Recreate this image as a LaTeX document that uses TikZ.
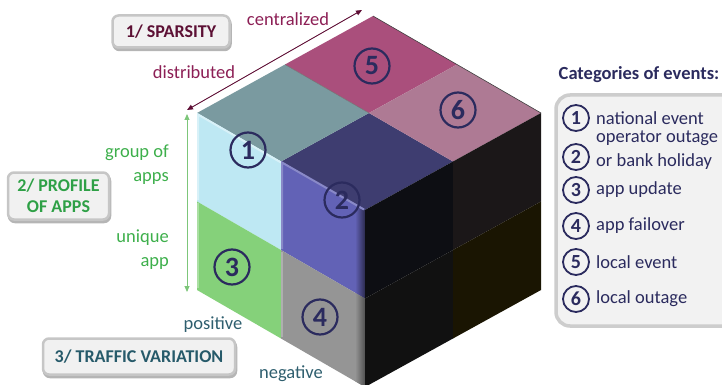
\documentclass[tikz,border=0pt]{standalone}
\usepackage{fontspec}
\setmainfont{Carlito}
\usetikzlibrary{arrows.meta}
\definecolor{navy}{HTML}{2B2B5E}
\definecolor{maroon}{HTML}{8C1F55}
\definecolor{maroondk}{HTML}{5E0E35}
\definecolor{grn}{HTML}{3DAF4B}
\definecolor{grnarrow}{HTML}{7DC67A}
\definecolor{teal}{HTML}{2E5E6E}
\definecolor{topA}{HTML}{3E3D70}
\definecolor{topB}{HTML}{7A9AA0}
\definecolor{topC}{HTML}{AA4F7C}
\definecolor{topD}{HTML}{AE7A94}
\definecolor{lfA}{HTML}{BEE8F3}
\definecolor{lfB}{HTML}{6262B6}
\definecolor{lfC}{HTML}{85D17A}
\definecolor{lfD}{HTML}{959595}
\definecolor{rfA}{HTML}{0D0E13}
\definecolor{rfB}{HTML}{1B1718}
\definecolor{rfC}{HTML}{111111}
\definecolor{rfD}{HTML}{1A1502}
\definecolor{btnface}{HTML}{F1F1F1}
\definecolor{btnrim}{HTML}{C6C6C6}
\definecolor{btnshadow}{HTML}{B5B5B5}
\definecolor{b1text}{HTML}{5C1034}
\definecolor{b2text}{HTML}{2EA046}
\definecolor{b3text}{HTML}{265A6A}
\definecolor{legfill}{HTML}{F2F2F2}
\definecolor{legrim}{HTML}{CDCDCD}
\begin{document}
\begin{tikzpicture}[x=1pt,y=-1pt,
  lab/.style={font=\fontsize{18.5}{24}\selectfont, inner sep=1pt},
  cnum/.style={circle, draw=navy, line width=2.2pt, minimum size=35pt, inner sep=0pt,
    text=navy, font=\bfseries\fontsize{28}{28}\selectfont},
  lnum/.style={circle, draw=navy, line width=1.8pt, minimum size=26pt, inner sep=0pt,
    text=navy, font=\bfseries\fontsize{20}{20}\selectfont},
  ltext/.style={font=\fontsize{18.5}{24}\selectfont, text=navy, inner sep=1pt, anchor=west, align=left},
  btn/.style={rounded corners=6pt, fill=btnface, draw=btnrim, line width=2.5pt, inner sep=0pt,
    align=center, font=\bfseries\fontsize{18}{21}\selectfont,
    preaction={draw=btnshadow, fill=btnshadow, line width=2.5pt, transform canvas={xshift=1pt,yshift=-2.5pt}}},
  arr/.style={line width=0.9pt, {Triangle[length=6pt,width=5pt]}-{Triangle[length=6pt,width=5pt]}}
]
\useasboundingbox (0,0) rectangle (722,385);
% ---- cube: top face
\fill[topA] (365,210) -- (281,161.5) -- (369,113) -- (453,161.5) -- cycle;
\fill[topB] (281,161.5) -- (197,113) -- (285,64.5) -- (369,113) -- cycle;
\fill[topC] (369,113) -- (285,64.5) -- (373,16) -- (457,64.5) -- cycle;
\fill[topD] (453,161.5) -- (369,113) -- (457,64.5) -- (541,113) -- cycle;
% left face
\fill[lfA] (281,161.5) -- (197,113) -- (197,201.5) -- (281,250) -- cycle;
\fill[lfB] (365,210) -- (281,161.5) -- (281,250) -- (365,298.5) -- cycle;
\fill[lfC] (281,250) -- (197,201.5) -- (197,290) -- (281,338.5) -- cycle;
\fill[lfD] (365,298.5) -- (281,250) -- (281,338.5) -- (365,387) -- cycle;
\shade[left color=lfB, right color=topA!70!black] (355,204.2) -- (365,210) -- (365,298.5) -- (355,292.7) -- cycle;
\shade[left color=lfD, right color=lfD!55!black] (355,292.7) -- (365,298.5) -- (365,387) -- (355,381.2) -- cycle;
% right face
\fill[rfA] (365,210) -- (453,161.5) -- (453,250) -- (365,298.5) -- cycle;
\fill[rfB] (453,161.5) -- (541,113) -- (541,201.5) -- (453,250) -- cycle;
\fill[rfC] (365,298.5) -- (453,250) -- (453,338.5) -- (365,387) -- cycle;
\fill[rfD] (453,250) -- (541,201.5) -- (541,290) -- (453,338.5) -- cycle;
% bevel highlights
\draw[lfA!60!white, line width=2pt] (198,200) -- (198,114.5) -- (281,162.5);
\draw[lfB!75!white, line width=2pt] (282,249) -- (282,162.5) -- (364,209.5);
\draw[lfC!70!white, line width=1.5pt] (198,288) -- (198,203);
\draw[lfD!75!white, line width=1.5pt] (282,337) -- (282,251.5);
\draw[black!75, line width=0.6pt] (373,16) -- (541,113);
\draw[black!55, line width=0.5pt] (285,64.5) -- (369,113);
% circled numbers on cube
\node[cnum] (c1) at (248,150) {1};
\node[cnum] (c2) at (342,200) {2};
\node[cnum] (c3) at (232,267) {3};
\node[cnum] (c4) at (320,317) {4};
\node[cnum] (c5) at (372,66) {5};
\node[cnum] (c6) at (458,110) {6};
% sparsity arrow
\coordinate (sA) at (187,110);
\coordinate (sB) at (362,10);
\draw[arr, maroondk] (sA) -- (sB);
\node[lab, text=maroon] (cent) at (288,19) {centralized};
\node[lab, text=maroon] (dist) at (194,72) {distributed};
% profile arrow
\coordinate (pA) at (187,114);
\coordinate (pB) at (187,292);
\draw[arr, grnarrow] (pA) -- (pB);
\node[lab, text=grn, align=right, anchor=east] (grp) at (170,165) {group of\\apps};
\node[lab, text=grn, align=right, anchor=east] (uni) at (170,250) {unique\\app};
% traffic labels
\node[lab, text=teal] (pos) at (213,325) {positive};
\node[lab, text=teal] (neg) at (291,374) {negative};
% buttons
\node[btn, minimum width=117pt, minimum height=32pt, text=b1text] (b1) at (171,31.5) {1/ SPARSITY};
\node[btn, minimum width=101pt, minimum height=47pt, text=b2text] (b2) at (58.5,196) {2/ PROFILE\\OF APPS};
\node[btn, minimum width=192pt, minimum height=36pt, text=b3text] (b3) at (139,356.5) {3/ TRAFFIC VARIATION};
% legend
\node[font=\bfseries\fontsize{18.5}{22}\selectfont, text=navy, inner sep=0pt] (title) at (639,75) {Categories of events:};
\draw[fill=legfill, draw=legrim, line width=3.5pt, rounded corners=14pt] (556,95) rectangle (745,326);
\node[lnum] (l1) at (576,118) {1};
\node[lnum] (l2) at (576,157) {2};
\node[lnum] (l3) at (576,190) {3};
\node[lnum] (l4) at (576,226) {4};
\node[lnum] (l5) at (576,262) {5};
\node[lnum] (l6) at (576,299) {6};
\node[ltext] (t1) at (595,118) {national event};
\node[ltext] (t2) at (595,150.5) {operator outage\\or bank holiday};
\node[ltext] (t3) at (595,190) {app update};
\node[ltext] (t4) at (595,226) {app failover};
\node[ltext] (t5) at (595,262) {local event};
\node[ltext] (t6) at (595,299) {local outage};
\end{tikzpicture}
\end{document}
